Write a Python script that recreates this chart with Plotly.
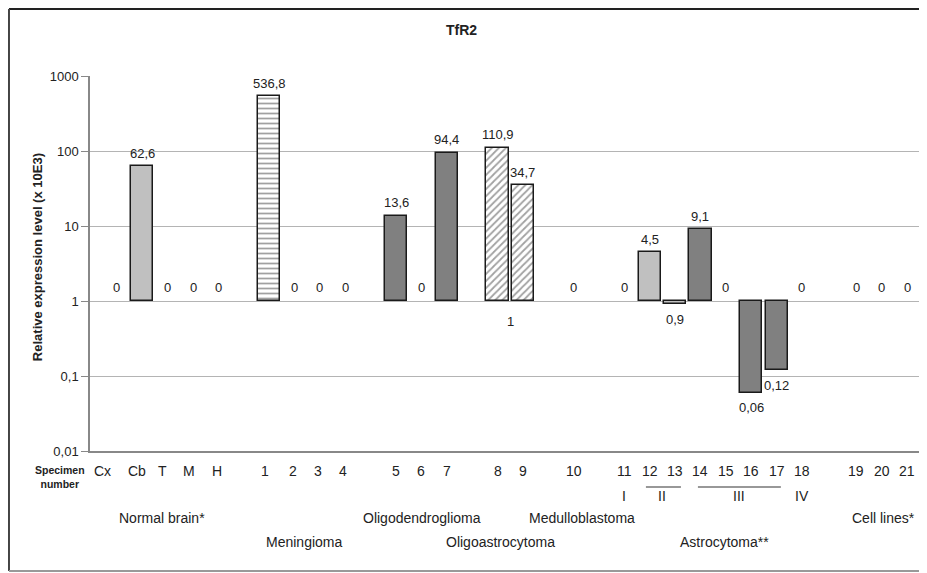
import math
import plotly.graph_objects as go

# ---------------- data ----------------
specimens = ["Cx", "Cb", "T", "M", "H",
             "1", "2", "3", "4",
             "5", "6", "7",
             "8", "9",
             "10",
             "11", "12", "13", "14", "15", "16", "17", "18",
             "19", "20", "21"]
group_sizes = [5, 4, 3, 2, 1, 8, 3]
values = [0, 62.6, 0, 0, 0,
          536.8, 0, 0, 0,
          13.6, 0, 94.4,
          110.9, 34.7,
          0,
          0, 4.5, 0.9, 9.1, 0, 0.06, 0.12, 0,
          0, 0, 0]
# bar style class: 0 = none, 1 = light grey, 2 = horizontal lines, 3 = dark grey, 4 = diagonal hatch
styles = [0, 1, 0, 0, 0,
          2, 0, 0, 0,
          3, 0, 3,
          4, 4,
          0,
          0, 1, 1, 3, 0, 3, 3, 0,
          0, 0, 0]
group_names = ["Normal brain*", "Meningioma", "Oligodendroglioma", "Oligoastrocytoma",
               "Medulloblastoma", "Astrocytoma**", "Cell lines*"]
grades = ["I", "II", "III", "IV"]
ytick_vals = [0.01, 0.1, 1, 10, 100, 1000]
ytick_text = ["0,01", "0,1", "1", "10", "100", "1000"]

# ---------------- layout helpers ----------------
FONT = "Liberation Sans, Arial, sans-serif"
gaps = [2, 2, 2, 2, 2, 2.15]
xs = []
pos = 0.0
for gi, n in enumerate(group_sizes):
    if gi > 0:
        pos += gaps[gi - 1]
    for k in range(n):
        xs.append(pos + k)
    pos += n - 1

fill_map = {1: "#c0c0c0", 2: "white", 3: "#808080", 4: "white"}
pat_map = {1: "", 2: "-", 3: "", 4: "/"}

bx, by, bc, bp = [], [], [], []
for x, v, s in zip(xs, values, styles):
    if v > 0 and s > 0:
        bx.append(x)
        by.append(v - 1)
        bc.append(fill_map[s])
        bp.append(pat_map[s])

fig = go.Figure()
fig.add_trace(go.Bar(
    x=bx, y=by, base=[1] * len(bx), width=0.87,
    marker=dict(color=bc, line=dict(color="#1a1a1a", width=1.5),
                pattern=dict(shape=bp, fgcolor="#333333", bgcolor=bc,
                             size=5, solidity=0.35)),
    hoverinfo="skip", showlegend=False,
))

ann = []
def fmt(v):
    return ("%g" % v).replace(".", ",")

for x, v in zip(xs, values):
    if v == 0:
        ann.append(dict(x=x, y=0, yshift=14, text="0"))
    elif v >= 1:
        ann.append(dict(x=x, y=math.log10(v), yshift=13, text=fmt(v)))
    else:
        ann.append(dict(x=x, y=math.log10(v), yshift=-15, text=fmt(v)))
# the stray "1" label between specimens 8 and 9
ann.append(dict(x=(xs[12] + xs[13]) / 2, y=0, yshift=-20, text="1"))
for a in ann:
    a.update(xref="x", yref="y", showarrow=False, xanchor="center", yanchor="middle",
             font=dict(size=13, color="#222"))

C = dict(xanchor="center", yanchor="middle", showarrow=False)

# specimen number row
label_shift = [-14, -5, -5, -4, -1, -4, -2, -2, -2]
for i, (x, name) in enumerate(zip(xs, specimens)):
    sh = label_shift[i] if i < len(label_shift) else 0
    ann.append(dict(x=x, xshift=sh, xref="x", y=-0.053, yref="paper", text=name,
                    font=dict(size=14, color="#222"), **C))

ann.append(dict(x=-0.0355, y=-0.069, xref="paper", yref="paper",
                text="<b>Specimen<br>number</b>",
                font=dict(size=10.5, color="#222"), **C))

# astrocytoma grades
astro = xs[15:23]
grade_x = [astro[0], (astro[1] + astro[2]) / 2, (astro[3] + astro[6]) / 2, astro[7]]
for gx, g in zip(grade_x, grades):
    ann.append(dict(x=gx, xref="x", y=-0.12, yref="paper", text=g,
                    font=dict(size=14, color="#222"), **C))

# group names
group_x = [1.78, 7.37, 12.02, 15.1, 18.33, 23.93, 30.2]
group_y = [-0.179, -0.243, -0.179, -0.243, -0.179, -0.243, -0.179]
for gx, gy, g in zip(group_x, group_y, group_names):
    ann.append(dict(x=gx, xref="x", y=gy, yref="paper", text=g,
                    font=dict(size=14, color="#222"), **C))

# title and y title
ann.append(dict(x=0.444, y=1.1227, xref="paper", yref="paper", text="<b>TfR2</b>",
                font=dict(size=14, color="#222"), **C))
ann.append(dict(x=-0.0633, y=0.517, xref="paper", yref="paper",
                text="<b>Relative expression level (x 10E3)</b>", textangle=-90,
                font=dict(size=13, color="#222"), **C))

shapes = [
    dict(type="line", xref="x", yref="paper", x0=20.85, x1=22.23, y0=-0.096, y1=-0.096,
         line=dict(color="#333", width=1.2)),
    dict(type="line", xref="x", yref="paper", x0=22.9, x1=26.17, y0=-0.096, y1=-0.096,
         line=dict(color="#333", width=1.2)),
    # outer frame
    dict(type="line", xref="paper", yref="paper", x0=-0.0968, x1=1.05, y0=1.1787, y1=1.1787,
         line=dict(color="#222", width=2)),
    dict(type="line", xref="paper", yref="paper", x0=-0.0968, x1=-0.0968, y0=1.1787, y1=-0.32,
         line=dict(color="#444", width=2)),
    dict(type="line", xref="paper", yref="paper", x0=-0.0968, x1=1.05, y0=-0.32, y1=-0.32,
         line=dict(color="#999", width=2)),
]

fig.update_layout(
    width=919, height=565,
    margin=dict(l=82, r=0, t=68, b=122),
    paper_bgcolor="white", plot_bgcolor="white",
    font=dict(family=FONT, color="#222"),
    bargap=0,
    annotations=ann, shapes=shapes,
    xaxis=dict(range=[-1.064, 31.93], showgrid=False, zeroline=False,
               showticklabels=False, ticks="", showline=True, linecolor="#888", linewidth=1.5),
    yaxis=dict(type="log", range=[-2, 3], tickvals=ytick_vals, ticktext=ytick_text,
               showgrid=True, gridcolor="#b4b4b4", gridwidth=1,
               showline=True, linecolor="#888", linewidth=1.5,
               ticks="outside", ticklen=7, tickcolor="#888",
               tickfont=dict(size=13, color="#222"), zeroline=False),
)

fig.write_html("out.html")
